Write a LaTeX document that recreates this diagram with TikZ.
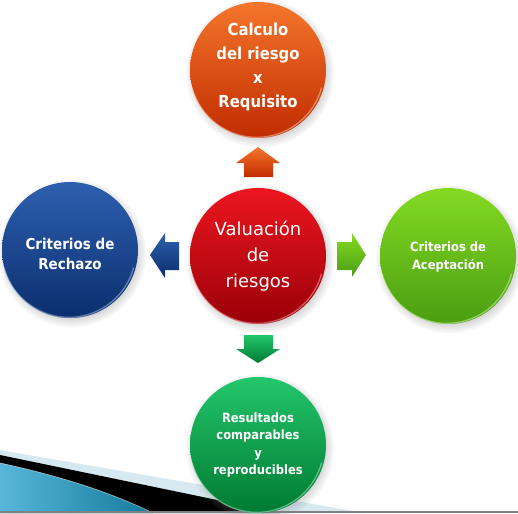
\documentclass[tikz,border=0pt]{standalone}
\usepackage{fontspec}
\setmainfont{DejaVu Sans}
\newfontfamily\cfont[FakeStretch=0.9]{DejaVu Sans}
\usetikzlibrary{shadows}
\definecolor{orT}{HTML}{F5762C}\definecolor{orB}{HTML}{C02C00}
\definecolor{reT}{HTML}{EC1620}\definecolor{reB}{HTML}{9A0008}
\definecolor{blT}{HTML}{2E60B0}\definecolor{blB}{HTML}{0B2E6E}
\definecolor{lgT}{HTML}{84DA22}\definecolor{lgB}{HTML}{4A9E12}
\definecolor{dgT}{HTML}{24C66C}\definecolor{dgB}{HTML}{007A32}
\definecolor{bandlight}{HTML}{D6E9F1}
\definecolor{bandL}{HTML}{58B6DA}\definecolor{bandR}{HTML}{137A9C}
\begin{document}
\begin{tikzpicture}[x=1pt,y=-1pt,
  ball/.style={circle, minimum size=136pt, inner sep=0pt,
    circular drop shadow={shadow xshift=1.5pt, shadow yshift=-2.5pt, opacity=0.35}},
  lbl/.style={align=center, text=white, inner sep=0pt},
  bigtxt/.style={lbl, font=\cfont\bfseries\fontsize{16.5}{24}\selectfont},
  midtxt/.style={lbl, font=\cfont\bfseries\fontsize{15}{20}\selectfont},
  smalltxt/.style={lbl, font=\cfont\bfseries\fontsize{12.8}{17.5}\selectfont},
  centertxt/.style={lbl, font=\fontsize{18}{26}\selectfont},
  rim/.style={line width=1.3pt, opacity=0.55}]
\useasboundingbox (0,0) rectangle (518,513);
% bottom-left decoration
\fill[bandlight] (0,450) -- (365,513) -- (0,513) -- cycle;
\fill[black] (0,455) -- (280,513) -- (0,513) -- cycle;
\shade[left color=bandL, right color=bandR] (0,463) .. controls (60,476) and (110,492) .. (153,513) -- (0,513) -- cycle;
\draw[white, opacity=0.6, line width=0.6pt] (0,463) .. controls (60,476) and (110,492) .. (153,513);
\fill[black!50] (0,510.5) rectangle (518,513);
% circles
\node[ball, top color=orT, bottom color=orB] (calc) at (258,70) {};
\node[ball, top color=reT, bottom color=reB] (val) at (258,256) {};
\node[ball, top color=blT, bottom color=blB] (rech) at (70,250) {};
\node[ball, top color=lgT, bottom color=lgB] (acep) at (448,256) {};
\node[ball, top color=dgT, bottom color=dgB] (res) at (258,445) {};
% glossy rims
\foreach \n/\c in {calc/orT, val/reT, rech/blT, acep/lgT, res/dgT}{
  \draw[rim, \c!40!white] (\n.195) arc[start angle=195, end angle=345, radius=67pt];
}
% texts
\node[bigtxt, yshift=3pt] (calct) at (calc) {Calculo\\del riesgo\\x\\Requisito};
\node[centertxt] (valt) at (val) {Valuación\\de\\riesgos};
\node[midtxt, yshift=-4pt] (recht) at (rech) {Criterios de\\Rechazo};
\node[smalltxt, yshift=-1pt] (acept) at (acep) {Criterios de\\Aceptación};
\node[smalltxt] (rest) at (res) {Resultados\\comparables\\y\\reproducibles};
% block arrows
\shade[top color=orT, bottom color=orB] (258,147) -- (280,163) -- (273,163) -- (273,177)
  -- (244,177) -- (244,163) -- (236,163) -- cycle;
\shade[top color=blT, bottom color=blB] (150,255) -- (165,233) -- (165,242) -- (179,242)
  -- (179,270) -- (165,270) -- (165,278) -- cycle;
\shade[top color=lgT, bottom color=lgB] (366,255) -- (352,233) -- (352,242) -- (337,242)
  -- (337,270) -- (352,270) -- (352,277) -- cycle;
\shade[top color=dgT, bottom color=dgB] (258,363) -- (280,349) -- (273,349) -- (273,335)
  -- (244,335) -- (244,349) -- (236,349) -- cycle;
\end{tikzpicture}
\end{document}
